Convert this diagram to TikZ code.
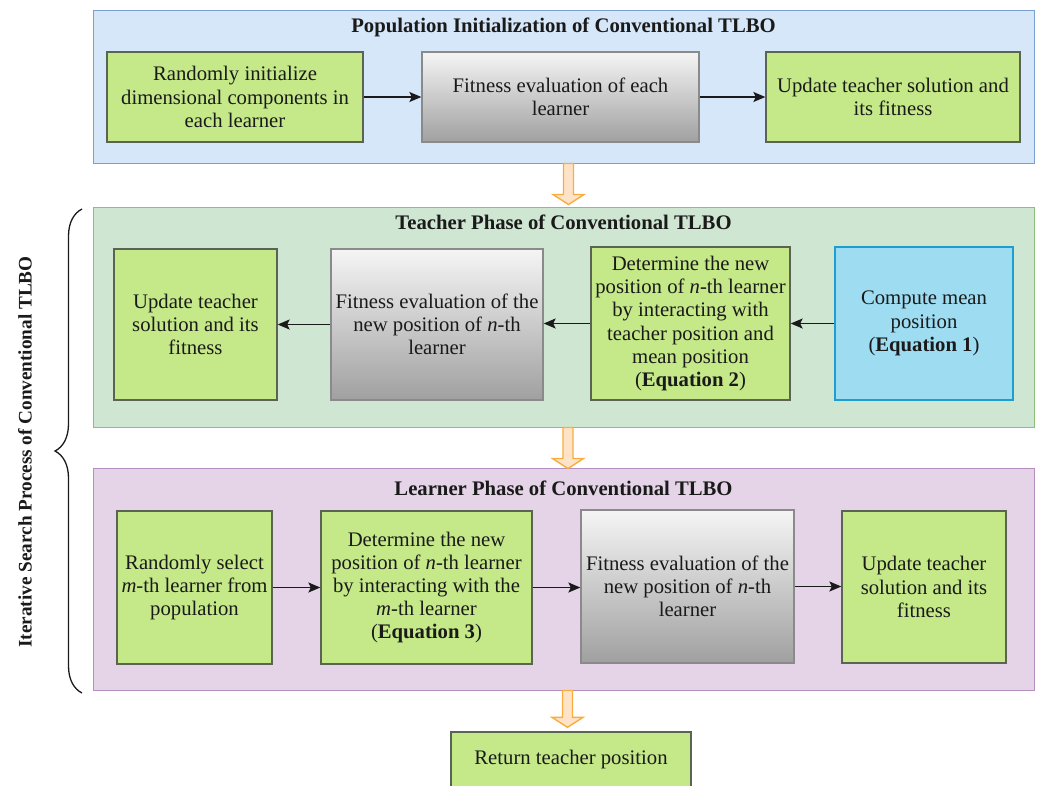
\documentclass[tikz,border=0pt]{standalone}
\usepackage{fontspec}
\setmainfont{Liberation Serif}
\usetikzlibrary{arrows.meta,calc,decorations.pathreplacing}

\definecolor{topfill}{HTML}{D5E7F9}
\definecolor{topline}{HTML}{7A9FD0}
\definecolor{teachfill}{HTML}{CFE7D2}
\definecolor{teachline}{HTML}{8CC07A}
\definecolor{learnfill}{HTML}{E5D4E8}
\definecolor{learnline}{HTML}{B58EC0}
\definecolor{leaf}{HTML}{C5E888}
\definecolor{leafline}{HTML}{5B6453}
\definecolor{sky}{HTML}{9EDCF1}
\definecolor{skyline}{HTML}{1C9ECF}
\definecolor{greytop}{HTML}{F5F5F5}
\definecolor{greybot}{HTML}{A0A0A0}
\definecolor{greyline}{HTML}{8A8A8A}
\definecolor{peach}{HTML}{FFE3C8}
\definecolor{amber}{HTML}{F7AE3E}
\definecolor{ink}{HTML}{1A1A1A}

% hollow block arrow pointing down from #1 to #2
\newcommand\blockarrow[2]{%
  \draw[flex] let \p1=(#1), \p2=(#2) in
    (\x1-5pt,\y1) -- (\x1-5pt,\y2+10pt) -- (\x1-15.5pt,\y2+10pt) -- (\x1,\y2)
    -- (\x1+15.5pt,\y2+10pt) -- (\x1+5pt,\y2+10pt) -- (\x1+5pt,\y1) -- cycle;}

\begin{document}
\begin{tikzpicture}[x=1pt,y=-1pt,
  txt/.style={font=\fontsize{20.7}{23.2}\selectfont, text=ink, align=center},
  ttl/.style={font=\fontsize{20.7}{23.2}\selectfont\bfseries, text=ink, inner sep=0},
  panel/.style={draw, line width=1pt, inner sep=0},
  leafbox/.style={txt, draw=leafline, fill=leaf, line width=1.3pt, inner sep=0},
  greybox/.style={txt, draw=greyline, top color=greytop, bottom color=greybot, line width=1.3pt, inner sep=0},
  skybox/.style={txt, draw=skyline, fill=sky, line width=1.5pt, inner sep=0},
  link/.style={draw=ink, line width=1.6pt, -{Stealth[length=12pt,width=10pt,inset=2.5pt]}},
  flex/.style={draw=amber, fill=peach, line width=1.4pt, line join=miter},
  bracestyle/.style={draw=ink, line width=1.3pt}]

\clip (0,0) rectangle (1040,785);
\useasboundingbox (0,0) rectangle (1040,785);

% ---------- population initialization ----------
\node[panel, draw=topline, fill=topfill, minimum width=941pt, minimum height=153pt] (ptop) at (563.5,86.5) {};
\node[ttl] (ttop) at (563.5,27) {Population Initialization of Conventional TLBO};
\node[leafbox, minimum width=256pt, minimum height=90pt] (b1) at (235,97)
  {Randomly initialize\\dimensional components in\\each learner};
\node[greybox, minimum width=277pt, minimum height=90pt] (b2) at (560.5,97)
  {Fitness evaluation of each\\learner};
\node[leafbox, minimum width=254pt, minimum height=90pt] (b3) at (893,97)
  {Update teacher solution and\\its fitness};
\draw[link] (b1) -- (b2);
\draw[link] (b2) -- (b3);

% ---------- teacher phase ----------
\node[panel, draw=teachline, fill=teachfill, minimum width=941pt, minimum height=220pt] (pteach) at (563.5,317) {};
\node[ttl] (tteach) at (563.5,222) {Teacher Phase of Conventional TLBO};
\node[leafbox, minimum width=163pt, minimum height=151pt] (t1) at (195.5,324.5)
  {Update teacher\\solution and its\\fitness};
\node[greybox, minimum width=212pt, minimum height=151pt] (t2) at (437,324.5)
  {Fitness evaluation of the\\new position of \textit{n}-th\\learner};
\node[leafbox, minimum width=199pt, minimum height=153pt] (t3) at (690.5,323.5)
  {Determine the new\\position of \textit{n}-th learner\\by interacting with\\teacher position and\\mean position\\(\textbf{Equation 2})};
\node[skybox, minimum width=178pt, minimum height=153pt] (t4) at (924,323.5)
  {Compute mean\\position\\(\textbf{Equation 1})};
\draw[link] (t4) -- (t3);
\draw[link] (t3.west) -- (t3.west -| t2.east);
\draw[link] (t2.west) -- (t2.west -| t1.east);

% ---------- learner phase ----------
\node[panel, draw=learnline, fill=learnfill, minimum width=941pt, minimum height=222pt] (plearn) at (563.5,579) {};
\node[ttl] (tlearn) at (563.5,488) {Learner Phase of Conventional TLBO};
\node[leafbox, minimum width=155pt, minimum height=153pt] (l1) at (194.5,587.5)
  {Randomly select\\\textit{m}-th learner from\\population};
\node[leafbox, minimum width=211pt, minimum height=153pt] (l2) at (426.5,587.5)
  {Determine the new\\position of \textit{n}-th learner\\by interacting with the\\\textit{m}-th learner\\(\textbf{Equation 3})};
\node[greybox, minimum width=213pt, minimum height=153pt] (l3) at (687.5,586.5)
  {Fitness evaluation of the\\new position of \textit{n}-th\\learner};
\node[leafbox, minimum width=164pt, minimum height=152pt] (l4) at (924,587)
  {Update teacher\\solution and its\\fitness};
\draw[link] (l1.east) -- (l1.east -| l2.west);
\draw[link] (l2.east) -- (l2.east -| l3.west);
\draw[link] (l3.east) -- (l3.east -| l4.west);

% ---------- result ----------
\node[leafbox, minimum width=240pt, minimum height=56pt] (ret) at (571,760)
  {Return teacher position};

% ---------- flow between stages ----------
\coordinate (a1s) at ($(ptop.south)+(5,0)$);
\coordinate (a1e) at ($(pteach.north)+(5,-2)$);
\coordinate (a2s) at ($(pteach.south)+(4.5,0)$);
\coordinate (a2e) at ($(plearn.north)+(4.5,1)$);
\coordinate (a3s) at ($(plearn.south)+(4,0)$);
\coordinate (a3e) at ($(ret.north)+(-3,-4)$);
\blockarrow{a1s}{a1e}
\blockarrow{a2s}{a2e}
\blockarrow{a3s}{a3e}

% ---------- iterative loop brace ----------
\coordinate (bt) at (82,209);
\coordinate (bb) at (82,693);
\draw[bracestyle, decorate, decoration={brace, amplitude=27pt}] (bb) -- (bt);
\node[rotate=90, font=\fontsize{19.2}{22}\selectfont\bfseries, text=ink, inner sep=0] (side) at (25,452)
  {Iterative Search Process of Conventional TLBO};

\end{tikzpicture}
\end{document}
